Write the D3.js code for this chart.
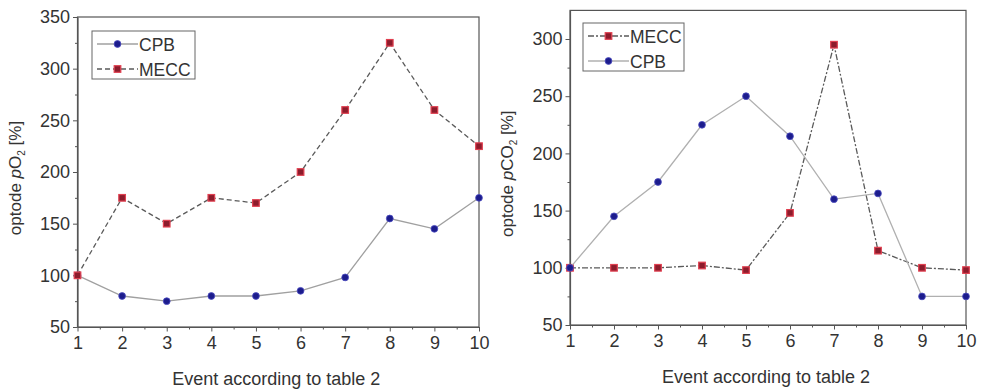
<!DOCTYPE html>
<html>
<head>
<meta charset="utf-8">
<script src="https://d3js.org/d3.v7.min.js"></script>
<style>
  body { margin: 0; background: #fff; }
  svg { display: block; font-family: "Liberation Sans", Arial, sans-serif; }
</style>
</head>
<body>
<svg id="chart" width="984" height="391"></svg>
<script>
  // events 1..10
  var events = [1, 2, 3, 4, 5, 6, 7, 8, 9, 10]

  // left panel: pO2
  var o2CPB  = [100, 80, 75, 80, 80, 85, 98, 155, 145, 175]
  var o2MECC = [100, 175, 150, 175, 170, 200, 260, 325, 260, 225]
  var o2Ticks = [50, 100, 150, 200, 250, 300, 350]

  // right panel: pCO2
  var co2MECC = [100, 100, 100, 102, 98, 148, 295, 115, 100, 98]
  var co2CPB  = [100, 145, 175, 225, 250, 215, 160, 165, 75, 75]
  var co2Ticks = [50, 100, 150, 200, 250, 300]

  var svg = d3.select("#chart")

  function drawPanel(p) {
    var x = d3.scaleLinear().domain([1, 10]).range([p.left, p.right])
    var y = d3.scaleLinear().domain(p.ydom).range([p.bottom, p.top])
    var g = svg.append("g")

    // frame
    g.append("rect")
      .attr("x", p.left).attr("y", p.top)
      .attr("width", p.right - p.left).attr("height", p.bottom - p.top)
      .attr("fill", "none").attr("stroke", "#555").attr("stroke-width", 1.2)

    // minor ticks
    g.append("g")
      .attr("transform", `translate(0,${p.bottom})`)
      .call(d3.axisBottom(x).tickValues(d3.range(1.5, 10, 1)).tickSize(2.5).tickFormat(""))
      .call(a => a.select(".domain").remove())
    g.append("g")
      .attr("transform", `translate(${p.left},0)`)
      .call(d3.axisLeft(y).tickValues(p.yticks.map(d => d + 25).filter(d => d < p.ydom[1])).tickSize(2.5).tickFormat(""))
      .call(a => a.select(".domain").remove())

    // major axes
    var xa = g.append("g")
      .attr("transform", `translate(0,${p.bottom})`)
      .call(d3.axisBottom(x).tickValues(events).tickSize(4.5).tickPadding(5).tickSizeOuter(0))
    var ya = g.append("g")
      .attr("transform", `translate(${p.left},0)`)
      .call(d3.axisLeft(y).tickValues(p.yticks).tickSize(4.5).tickPadding(3).tickSizeOuter(0))
    ;[xa, ya].forEach(function (a) {
      a.select(".domain").attr("stroke", "#555").attr("stroke-width", 1.2)
      a.selectAll("text").attr("font-size", 18).attr("fill", "#333").attr("font-family", "Liberation Sans, Arial, sans-serif")
    })
    g.selectAll(".tick line").attr("stroke", "#555")

    // axis titles
    g.append("text")
      .attr("x", (p.left + p.right) / 2 - 2).attr("y", p.bottom + 58)
      .attr("text-anchor", "middle").attr("font-size", 18).attr("fill", "#333")
      .text("Event according to table 2")
    var yt = g.append("text")
      .attr("transform", `translate(${p.ylabX},${(p.top + p.bottom) / 2 + 6}) rotate(-90)`)
      .attr("text-anchor", "middle").attr("font-size", 17).attr("fill", "#333")
    yt.append("tspan").text("optode ")
    yt.append("tspan").attr("font-style", "italic").text("p")
    yt.append("tspan").text(p.gas)
    yt.append("tspan").attr("font-size", 10).attr("dy", 4).text("2")
    yt.append("tspan").attr("dy", -4).text(" [%]")

    var line = d3.line().x((d, i) => x(events[i])).y(d => y(d))

    p.series.forEach(function (s) {
      g.append("path")
        .attr("d", line(s.values))
        .attr("fill", "none").attr("stroke", s.stroke).attr("stroke-width", 1.3)
        .attr("stroke-dasharray", s.dash)
      drawMarks(g, s, s.values.map((d, i) => [x(events[i]), y(d)]))
    })

    // legend
    var lg = g.append("g")
    lg.append("rect")
      .attr("x", p.leg[0]).attr("y", p.leg[1]).attr("width", p.leg[2]).attr("height", p.leg[3])
      .attr("fill", "#fff").attr("stroke", "#666").attr("stroke-width", 1)
    p.series.forEach(function (s, i) {
      var cy = p.leg[1] + 13 + i * 25
      var x0 = p.leg[0] + 5, x1 = p.leg[0] + 46
      lg.append("line")
        .attr("x1", x0).attr("x2", x1).attr("y1", cy).attr("y2", cy)
        .attr("stroke", s.stroke).attr("stroke-width", 1.3).attr("stroke-dasharray", s.dash)
      drawMarks(lg, s, [[(x0 + x1) / 2, cy]])
      lg.append("text")
        .attr("x", x1 + 1).attr("y", cy + 6.5)
        .attr("font-size", 17.5).attr("fill", "#333")
        .text(s.name)
    })
  }

  function drawMarks(g, s, pts) {
    if (s.shape === "circle") {
      g.selectAll(null).data(pts).join("circle")
        .attr("cx", d => d[0]).attr("cy", d => d[1]).attr("r", 3.4)
        .attr("fill", "#1c1c8c").attr("stroke", "#4a4ac0").attr("stroke-width", 0.8)
    } else {
      g.selectAll(null).data(pts).join("rect")
        .attr("x", d => d[0] - 3.3).attr("y", d => d[1] - 3.3)
        .attr("width", 6.6).attr("height", 6.6)
        .attr("fill", "#8c1c2c").attr("stroke", "#e04050").attr("stroke-width", 1.2)
    }
  }

  drawPanel({
    left: 77.5, right: 479, top: 17, bottom: 327, ydom: [50, 350], yticks: o2Ticks,
    ylabX: 21, gas: "O",
    leg: [92, 31, 103, 48],
    series: [
      { name: "CPB", values: o2CPB, stroke: "#a0a0a0", dash: null, shape: "circle" },
      { name: "MECC", values: o2MECC, stroke: "#5a5a5a", dash: "5,3", shape: "square" }
    ]
  })

  drawPanel({
    left: 570, right: 966, top: 10.4, bottom: 325, ydom: [50, 325], yticks: co2Ticks,
    ylabX: 513, gas: "CO",
    leg: [583, 23, 101, 48],
    series: [
      { name: "MECC", values: co2MECC, stroke: "#5a5a5a", dash: "6,2,2,2", shape: "square" },
      { name: "CPB", values: co2CPB, stroke: "#b0b0b0", dash: null, shape: "circle" }
    ]
  })
</script>
</body>
</html>
